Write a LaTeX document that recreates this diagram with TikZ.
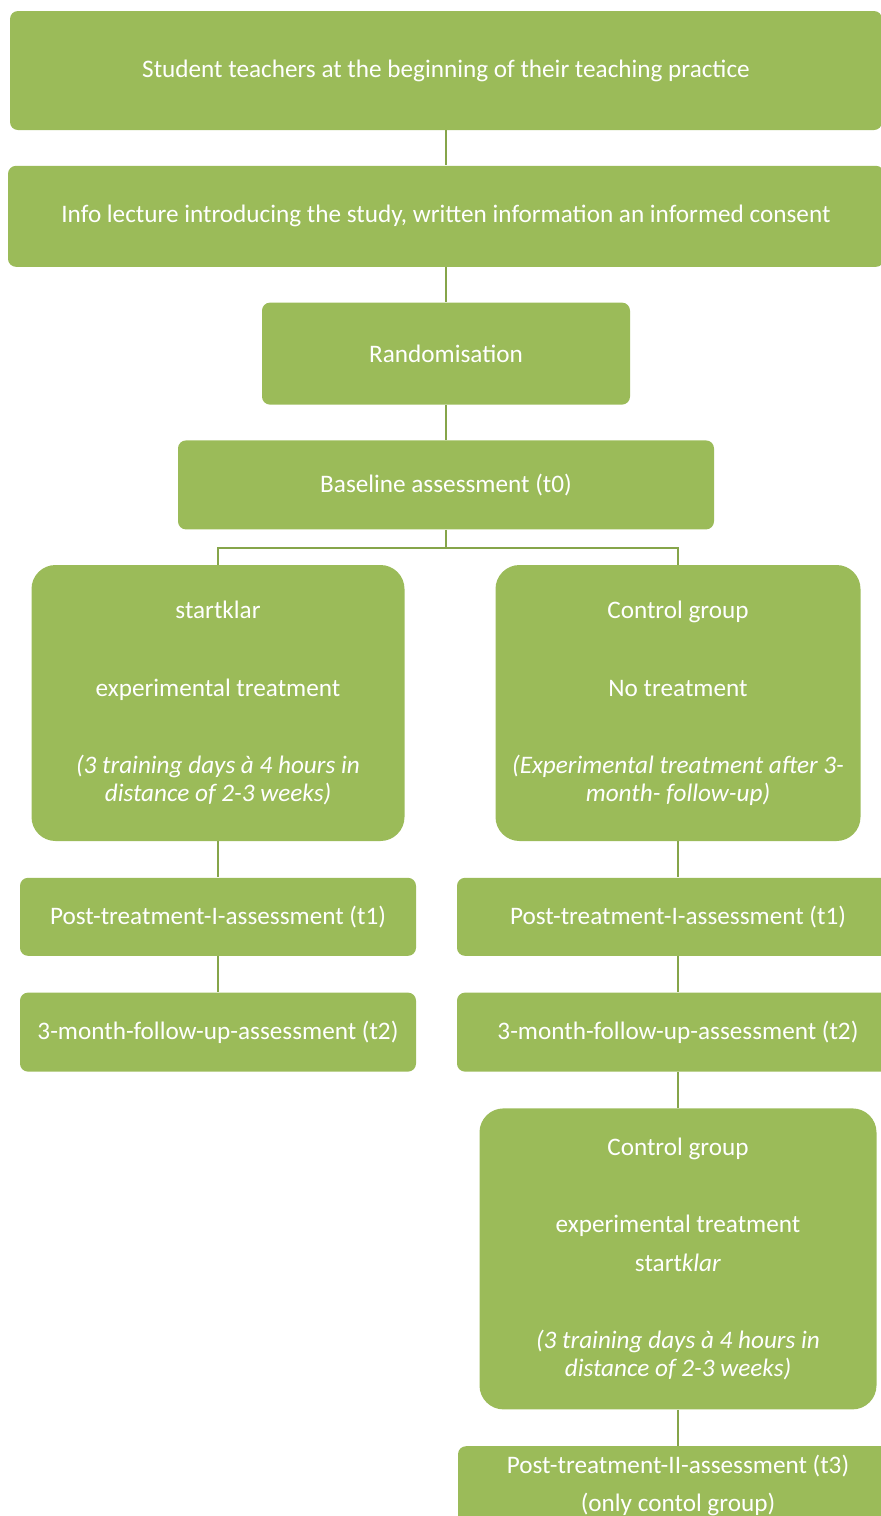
\documentclass[tikz,border=0pt]{standalone}
\usepackage{fontspec}
\setmainfont{Carlito}
\usepackage{xcolor}
\usepackage{tikz}
\usetikzlibrary{positioning}

\definecolor{boxgreen}{HTML}{9BBB59}
\definecolor{linegreen}{HTML}{86A54A}

\tikzset{
  box/.style = {fill = boxgreen, text = white, rounded corners = 4pt,
    inner sep = 0pt, align = center,
    font = \fontsize{12.6}{14}\selectfont},
  bigbox/.style = {box, rounded corners = 12pt},
  link/.style = {draw = linegreen, line width = 1pt},
}

\begin{document}
\begin{tikzpicture}[x = 0.5pt, y = -0.5pt]
      \path[use as bounding box, clip] (0,0) rectangle (881,1516);

      \node[box, minimum width = 436pt, minimum height = 59.5pt] (students) at (446,70.5)
        {Student teachers at the beginning of their teaching practice};
      \node[box, below = 17.5pt of students, minimum width = 438pt, minimum height = 50.5pt] (info)
        {Info lecture introducing the study, written information an informed consent};
      \node[box, below = 17.5pt of info, minimum width = 184pt, minimum height = 51pt] (random)
        {Randomisation};
      \node[box, below = 17.5pt of random, minimum width = 268pt, minimum height = 44.5pt] (baseline)
        {Baseline assessment (t0)};

      \coordinate[below = 9pt of baseline] (split);

      % two groups
      \node[bigbox, minimum width = 186.5pt, minimum height = 138pt] (startklar) at (218,703)
        {startklar\\[25pt] experimental treatment\\[24.5pt]
         \itshape (3 training days à 4 hours in\\ \itshape distance of 2-3 weeks)};
      \node[bigbox, minimum width = 182.5pt, minimum height = 138pt] (control) at (678,703)
        {Control group\\[25pt] No treatment\\[24.5pt]
         \itshape (Experimental treatment after 3-\\ \itshape month- follow-up)};

      \node[box, below = 18pt of startklar, minimum width = 198pt, minimum height = 39pt] (postL)
        {Post-treatment-I-assessment (t1)};
      \node[box, below = 18pt of postL, minimum width = 198pt, minimum height = 39.5pt] (followL)
        {3-month-follow-up-assessment (t2)};

      \node[box, below = 18pt of control, minimum width = 221pt, minimum height = 39pt] (postR)
        {Post-treatment-I-assessment (t1)};
      \node[box, below = 18pt of postR, minimum width = 221pt, minimum height = 39.5pt] (followR)
        {3-month-follow-up-assessment (t2)};

      % control group treated later
      \node[bigbox, below = 18pt of followR, minimum width = 198.5pt, minimum height = 150.5pt] (controlB)
        {Control group\\[24.5pt] experimental treatment\\[5.5pt]
         start\textit{klar}\\[24.5pt]
         \itshape (3 training days à 4 hours in\\ \itshape distance of 2-3 weeks)};
      \node[box, below = 18pt of controlB, minimum width = 220pt, minimum height = 39pt] (postII)
        {Post-treatment-II-assessment (t3)\\[5pt] (only contol group)};

      \draw[link] (students) -- (info);
      \draw[link] (info) -- (random);
      \draw[link] (random) -- (baseline);
      \draw[link] (baseline) -- (split);
      \draw[link] (split) -| (startklar);
      \draw[link] (split) -| (control);
      \draw[link] (startklar) -- (postL);
      \draw[link] (postL) -- (followL);
      \draw[link] (control) -- (postR);
      \draw[link] (postR) -- (followR);
      \draw[link] (followR) -- (controlB);
      \draw[link] (controlB) -- (postII);
\end{tikzpicture}
\end{document}
